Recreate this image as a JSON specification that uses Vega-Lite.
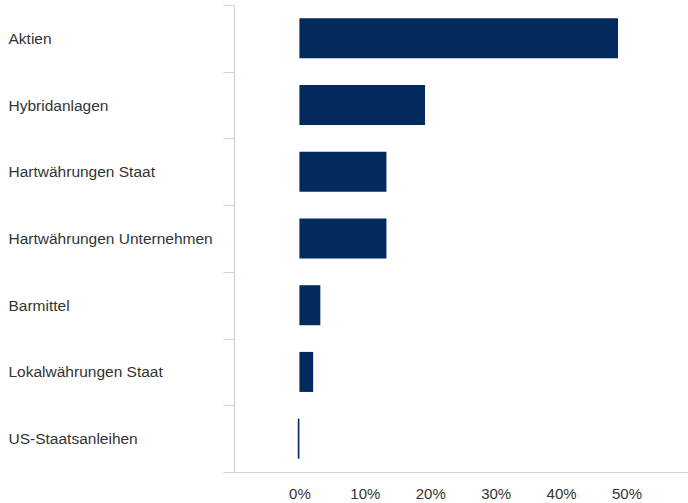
{
  "$schema": "https://vega.github.io/schema/vega-lite/v6.json",
  "width": 454,
  "height": 467,
  "autosize": "none",
  "padding": {"left": 234, "top": 5, "right": 0, "bottom": 31},
  "background": "white",
  "config": {"view": {"stroke": null}, "font": "Liberation Sans"},
  "data": {"values": [
    {"category": "Aktien", "value": 48.7},
    {"category": "Hybridanlagen", "value": 19.2},
    {"category": "Hartwährungen Staat", "value": 13.3},
    {"category": "Hartwährungen Unternehmen", "value": 13.3},
    {"category": "Barmittel", "value": 3.2},
    {"category": "Lokalwährungen Staat", "value": 2.1},
    {"category": "US-Staatsanleihen", "value": -0.25}
  ]},
  "mark": {"type": "bar", "color": "#022a5c", "height": {"band": 0.6}},
  "encoding": {
    "y": {
      "field": "category", "type": "nominal", "sort": null,
      "scale": {"paddingInner": 0, "paddingOuter": 0},
      "axis": {
        "title": null, "tickBand": "extent", "tickSize": 11, "tickColor": "#c8d3ec", "tickWidth": 1,
        "domainColor": "#d0d0d0", "domainWidth": 1.2,
        "labelAlign": "left", "labelPadding": 215, "labelFontSize": 15.5, "labelColor": "#333333", "labelLimit": 300
      }
    },
    "x": {
      "field": "value", "type": "quantitative",
      "scale": {"domain": [-10, 59.4], "nice": false, "zero": false},
      "axis": {
        "title": null, "values": [0, 10, 20, 30, 40, 50], "labelExpr": "datum.value + '%'",
        "ticks": false, "grid": false, "domainColor": "#d0d0d0", "domainWidth": 1.2,
        "labelPadding": 14, "labelFontSize": 15, "labelColor": "#333333"
      }
    }
  }
}
